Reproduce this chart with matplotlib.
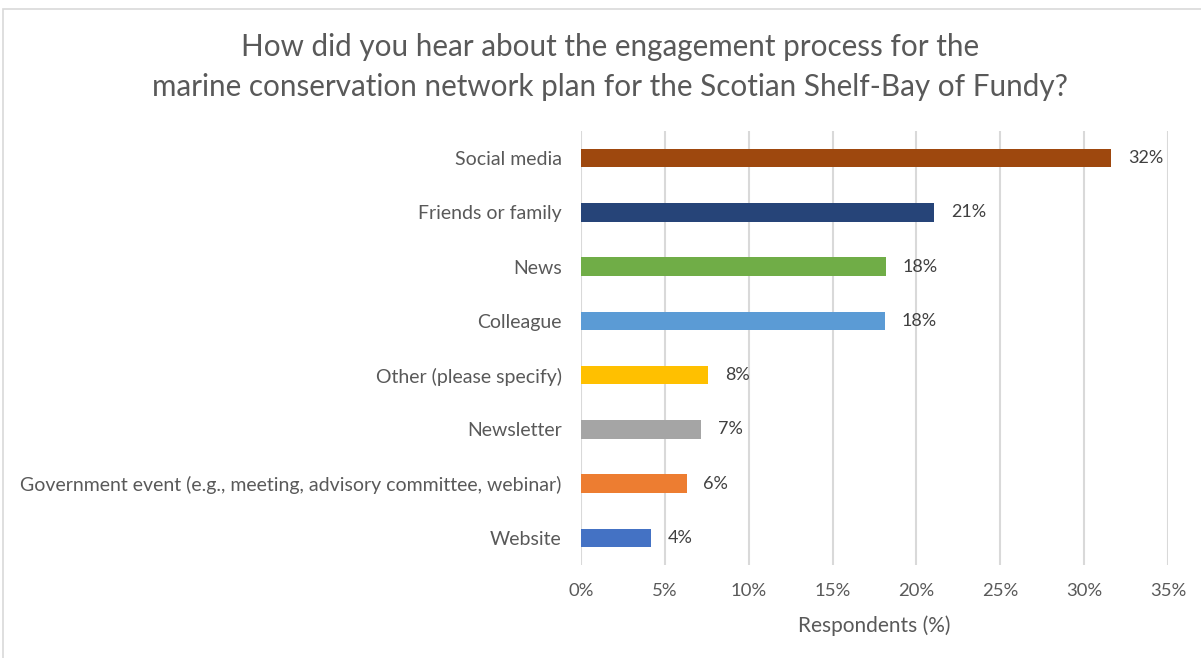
import matplotlib
matplotlib.use("Agg")
import matplotlib.pyplot as plt
from matplotlib.patches import Rectangle

plt.rcParams['font.family'] = ['Lato', 'DejaVu Sans']

# survey answers, top to bottom
sources = [
    "Social media",
    "Friends or family",
    "News",
    "Colleague",
    "Other (please specify)",
    "Newsletter",
    "Government event (e.g., meeting, advisory committee, webinar)",
    "Website",
]
share = [31.6, 21.05, 18.2, 18.1, 7.6, 7.15, 6.3, 4.2]
bar_colors = ["#9E480E", "#264478", "#70AD47", "#5B9BD5",
              "#FFC000", "#A5A5A5", "#ED7D31", "#4472C4"]
xticks = [0, 5, 10, 15, 20, 25, 30, 35]

txt = "#595959"

fig = plt.figure(figsize=(12.01, 6.58), dpi=100)
ax = fig.add_axes([581 / 1201, 1 - 565 / 658, 587 / 1201, 434 / 658])

# thin frame around the chart area
fig.patches.append(Rectangle((3 / 1201, -0.1), 1.1, 1 - 9 / 658 + 0.1,
                             transform=fig.transFigure, fill=False,
                             edgecolor="#d9d9d9", linewidth=1.2))

pos = list(range(len(sources)))[::-1]
ax.barh(pos, share, height=0.34, color=bar_colors, zorder=3)
for p, v in zip(pos, share):
    ax.text(v + 1.0, p, "%.0f%%" % v, va="center", ha="left",
            fontsize=13, color="#404040")

ax.set_xlim(0, 35)
ax.set_ylim(-0.5, len(sources) - 0.5)
ax.set_xticks(xticks)
ax.set_xticklabels(["%d%%" % t for t in xticks], fontsize=13.3, color=txt)
ax.set_yticks(pos)
ax.set_yticklabels(sources, fontsize=14, color=txt)
ax.tick_params(axis="x", length=0, pad=13)
ax.tick_params(axis="y", length=0, pad=14)
ax.grid(axis="x", color="#d9d9d9", linewidth=1.5, zorder=0)
for s in ax.spines.values():
    s.set_visible(False)

ax.set_xlabel("Respondents (%)", fontsize=15, color=txt, labelpad=12)

fig.text(610 / 1201, 1 - 67 / 658,
         "How did you hear about the engagement process for the\n"
         "marine conservation network plan for the Scotian Shelf-Bay of Fundy?",
         ha="center", va="center", fontsize=21.3, color=txt, linespacing=1.5)

fig.savefig("out.png", dpi=100)
